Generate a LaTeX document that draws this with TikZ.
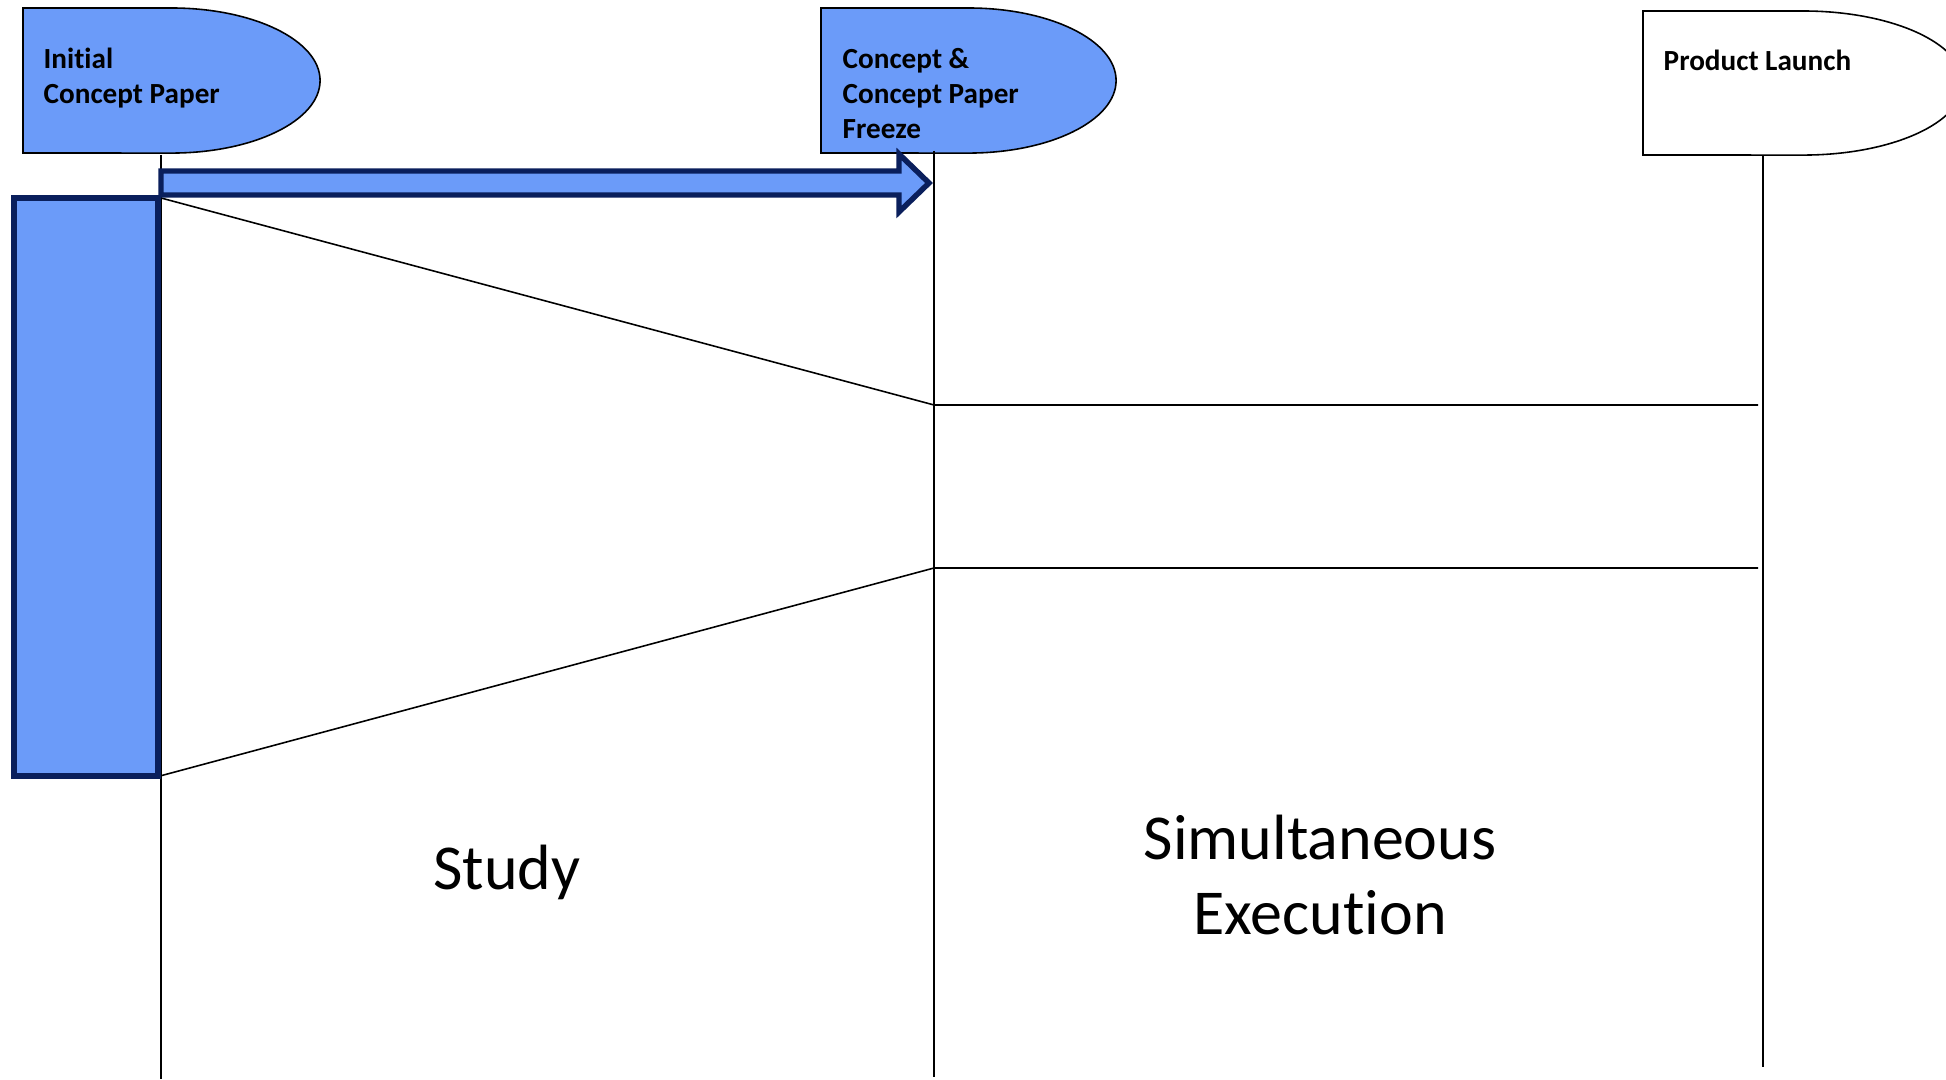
\documentclass[tikz,border=0pt]{standalone}
\usepackage{fontspec}
\setmainfont{Carlito}[Ligatures=NoCommon]
\definecolor{PhBlue}{HTML}{6B9BF9}
\definecolor{PhNavy}{HTML}{0A1F5C}
\usetikzlibrary{positioning,calc}

\tikzset{
  milestone/.style={draw=black, line width=0.45pt},
  mslabel/.style={anchor=base west, inner sep=0pt, align=left, font=\bfseries\fontsize{8.3}{10}\selectfont},
  timeline/.style={draw=black, line width=0.45pt},
  navybox/.style={draw=PhNavy, fill=PhBlue, line width=1.55pt, line join=miter},
  phasetext/.style={anchor=base, inner sep=0pt, align=center, font=\fontsize{18.2}{21.6}\selectfont}
}

\begin{document}
\begin{tikzpicture}[x=0.01cm, y=0.01cm]
    \useasboundingbox (0,0) rectangle (1946,1079);

    % milestones
    \path[milestone, fill=PhBlue] (23,1071) -- (171.5,1071) arc[start angle=90, end angle=-90, x radius=1.485cm, y radius=0.725cm] -- (23,926) -- cycle;
    \path[milestone, fill=PhBlue] (821,1071) -- (968.5,1071) arc[start angle=90, end angle=-90, x radius=1.475cm, y radius=0.725cm] -- (821,926) -- cycle;
    \path[milestone, fill=white] (1643,1068) -- (1803,1068) arc[start angle=90, end angle=-90, x radius=1.6cm, y radius=0.72cm] -- (1643,924) -- cycle;
    \node[mslabel] (init) at (43,975) {Initial\\Concept Paper};
    \node[mslabel] (freeze) at (842,940) {Concept \&\\Concept Paper\\Freeze};
    \node[mslabel] (launch) at (1663,1008) {Product Launch};

    % time lines
    \coordinate (t1) at (161,924);  \coordinate (b1) at (161,0);
    \coordinate (t2) at (934,928);  \coordinate (b2) at (934,2);
    \coordinate (t3) at (1763,924); \coordinate (b3) at (1763,12);
    \draw[timeline] (t1) -- (b1);
    \draw[timeline] (t2) -- (b2);
    \draw[timeline] (t3) -- (b3);

    % funnel
    \coordinate (fu) at (161,881);  \coordinate (fl) at (160,303);
    \coordinate (gu) at (934,674);  \coordinate (gl) at (934,511);
    \coordinate (hu) at (1758,674); \coordinate (hl) at (1758,511);
    \draw[timeline] (fu) -- (gu) -- (hu);
    \draw[timeline] (fl) -- (gl) -- (hl);

    % study block and arrow
    \draw[navybox] (14,303) rectangle (158,881);
    \draw[navybox] (161,908) -- (899,908) -- (899,925) -- (929,896) -- (899,867) -- (899,884) -- (161,884) -- cycle;

    \node[phasetext] (study) at (507,189) {Study};
    \node[phasetext] (simex) at (1320,144) {Simultaneous\\Execution};
\end{tikzpicture}
\end{document}
